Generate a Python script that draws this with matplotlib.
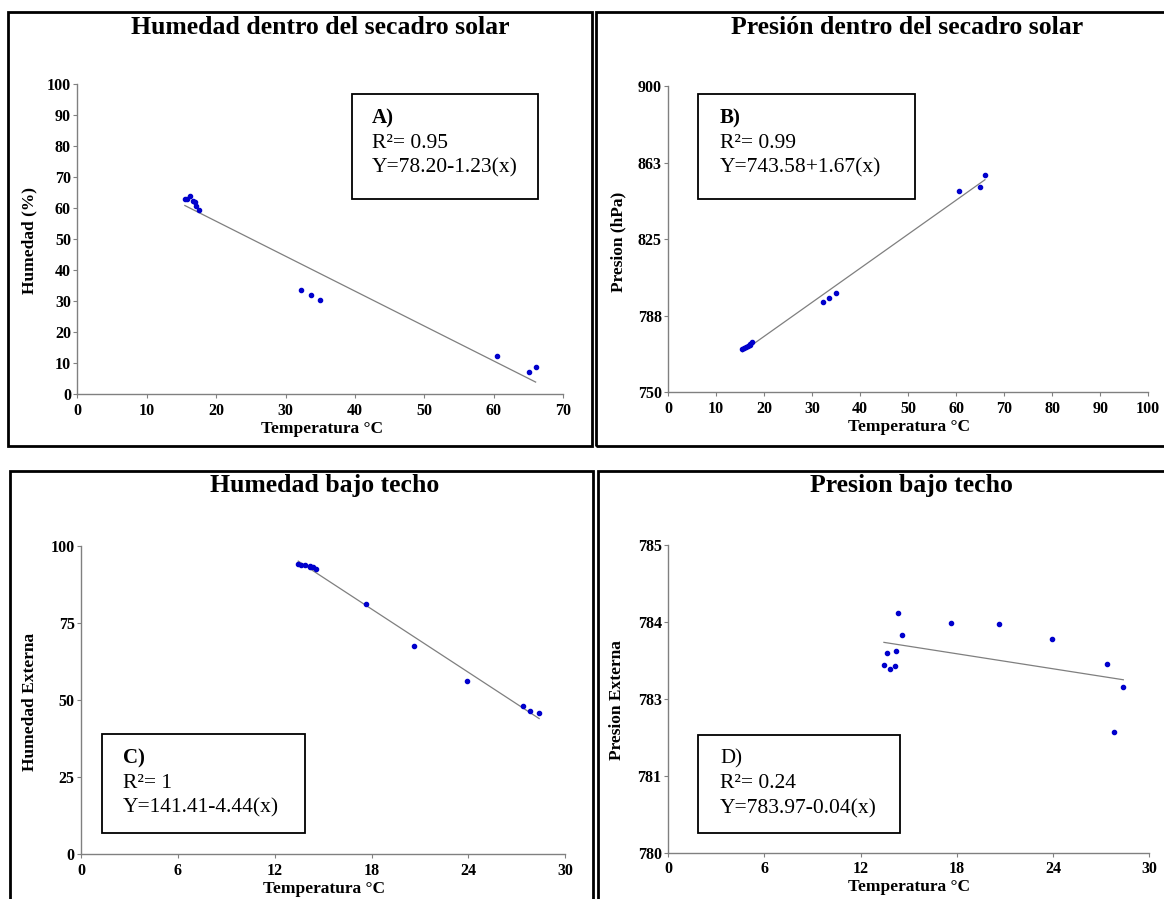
import numpy as np
import matplotlib
matplotlib.use("Agg")
import matplotlib.pyplot as plt
from matplotlib.patches import Rectangle
from matplotlib.ticker import FuncFormatter

plt.rcParams['font.family'] = ['Liberation Serif', 'DejaVu Serif']

W, H = 1164, 899

# --- data ---
temp_secador = [15.5, 15.8, 16.25, 16.7, 17.0, 17.1, 17.55, 32.2, 33.6, 34.9, 60.5, 65.0, 66.0]
humedad_secador = [63.0, 62.8, 64.0, 62.2, 62.1, 60.6, 59.3, 33.6, 31.9, 30.3, 12.2, 7.3, 8.8]
presion_secador = [771.0, 771.5, 772.0, 772.6, 773.2, 773.5, 774.4, 794.1, 796.2, 798.6, 848.6, 850.7, 856.3]

temp_techo = [13.46, 13.62, 13.85, 14.17, 14.21, 14.35, 14.56, 17.66, 20.65, 23.91, 27.38, 27.83, 28.38]
humedad_techo = [94.1, 93.8, 93.6, 93.0, 93.3, 93.2, 92.5, 81.1, 67.6, 56.3, 48.2, 46.5, 45.7]
presion_techo = [783.05, 783.24, 782.98, 783.03, 783.27, 783.89, 783.53, 783.73, 783.71, 783.48, 783.06, 781.96, 782.69]

titles = ["Humedad dentro del secadro solar", "Presión dentro del secadro solar",
          "Humedad bajo techo", "Presion bajo techo"]
ylabels = ["Humedad (%)", "Presion (hPa)", "Humedad Externa", "Presion Externa"]
box_tag = ["A)", "B)", "C)", "D)"]
box_r2 = ["R²= 0.95", "R²= 0.99", "R²= 1", "R²= 0.24"]
box_eq = ["Y=78.20-1.23(x)", "Y=743.58+1.67(x)", "Y=141.41-4.44(x)", "Y=783.97-0.04(x)"]


def fx(x):
    return x / W


def fy(y):
    return 1 - y / H


fig = plt.figure(figsize=(W / 100, H / 100), dpi=100)

# panel frames (pixel boxes: left, top, right, bottom)
frames = [(8, 12, 592, 446), (596, 12, 1175, 446), (10, 471, 593, 910), (598, 471, 1175, 910)]
for l, t, r, b in frames:
    fig.patches.append(Rectangle((fx(l), fy(b)), fx(r - l), (b - t) / H, fill=False,
                                 lw=2, ec='black', transform=fig.transFigure))

panels = [
    dict(ax=(77.2, 84, 563.4, 394.3), x=temp_secador, y=humedad_secador,
         xlim=(0, 70), xt=np.arange(0, 71, 10), ylim=(0, 100), yt=np.arange(0, 101, 10),
         title=(320, 28), xl=(322, 429), yl=(29, 240), box=(352, 94, 538, 199), tx=372),
    dict(ax=(668, 86, 1148.2, 392.3), x=temp_secador, y=presion_secador,
         xlim=(0, 100), xt=np.arange(0, 101, 10), ylim=(750, 900), yt=np.linspace(750, 900, 5),
         title=(907, 28), xl=(909, 427), yl=(618, 242), box=(698, 94, 915, 199), tx=720),
    dict(ax=(80.9, 545.7, 565.3, 854.3), x=temp_techo, y=humedad_techo,
         xlim=(0, 30), xt=np.arange(0, 31, 6), ylim=(0, 100), yt=np.arange(0, 101, 25),
         title=(325, 486), xl=(324, 889), yl=(30, 702), box=(102, 734, 305, 833), tx=123),
    dict(ax=(668, 545, 1149.3, 852.7), x=temp_techo, y=presion_techo,
         xlim=(0, 30), xt=np.arange(0, 31, 6), ylim=(780, 785), yt=np.linspace(780, 785, 5),
         title=(911, 486), xl=(909, 887), yl=(617, 700), box=(698, 735, 900, 833), tx=720),
]

for i, p in enumerate(panels):
    l, t, r, b = p['ax']
    ax = fig.add_axes([fx(l), fy(b), fx(r - l), (b - t) / H])
    x = np.array(p['x'])
    y = np.array(p['y'])
    k, c = np.polyfit(x, y, 1)
    xs = np.array([x.min(), x.max()])
    ax.plot(xs, k * xs + c, color='#7f7f7f', lw=0.9, zorder=2)
    ax.plot(x, y, 'o', color='#0000cc', ms=3.0, mec='#0000cc', zorder=3)

    ax.set_xlim(p['xlim'])
    ax.set_ylim(p['ylim'])
    ax.set_xticks(p['xt'])
    ax.set_yticks(p['yt'])
    ax.yaxis.set_major_formatter(FuncFormatter(lambda v, pos: "%d" % int(np.floor(v + 0.5))))
    for s in ['top', 'right']:
        ax.spines[s].set_visible(False)
    for s in ['left', 'bottom']:
        ax.spines[s].set_color('#808080')
        ax.spines[s].set_linewidth(1.0)
    ax.tick_params(axis='both', direction='out', length=3, width=0.8, color='#808080',
                   labelsize=11.5, pad=1.5)
    ax.tick_params(axis='x', pad=3)
    for lab in ax.get_xticklabels() + ax.get_yticklabels():
        lab.set_fontweight('bold')

    tx, ty = p['title']
    fig.text(fx(tx), fy(ty), titles[i], ha='center', va='center', fontsize=18.5, fontweight='bold')
    lx, ly = p['xl']
    fig.text(fx(lx), fy(ly), "Temperatura °C", ha='center', va='center', fontsize=12.5, fontweight='bold')
    yx, yy = p['yl']
    fig.text(fx(yx), fy(yy), ylabels[i], ha='center', va='center', rotation=90,
             fontsize=12.5, fontweight='bold')

    bl, bt, br, bb = p['box']
    fig.patches.append(Rectangle((fx(bl), fy(bb)), fx(br - bl), (bb - bt) / H, fill=False,
                                 lw=1.3, ec='black', transform=fig.transFigure))
    bx = p['tx']
    fig.text(fx(bx), fy(bt + 24), box_tag[i], ha='left', va='center', fontsize=15,
             fontweight='normal' if i == 3 else 'bold')
    fig.text(fx(bx), fy(bt + 49), box_r2[i], ha='left', va='center', fontsize=15.5)
    fig.text(fx(bx), fy(bt + 74), box_eq[i], ha='left', va='center', fontsize=15.5)

fig.savefig("out.png", dpi=100)
